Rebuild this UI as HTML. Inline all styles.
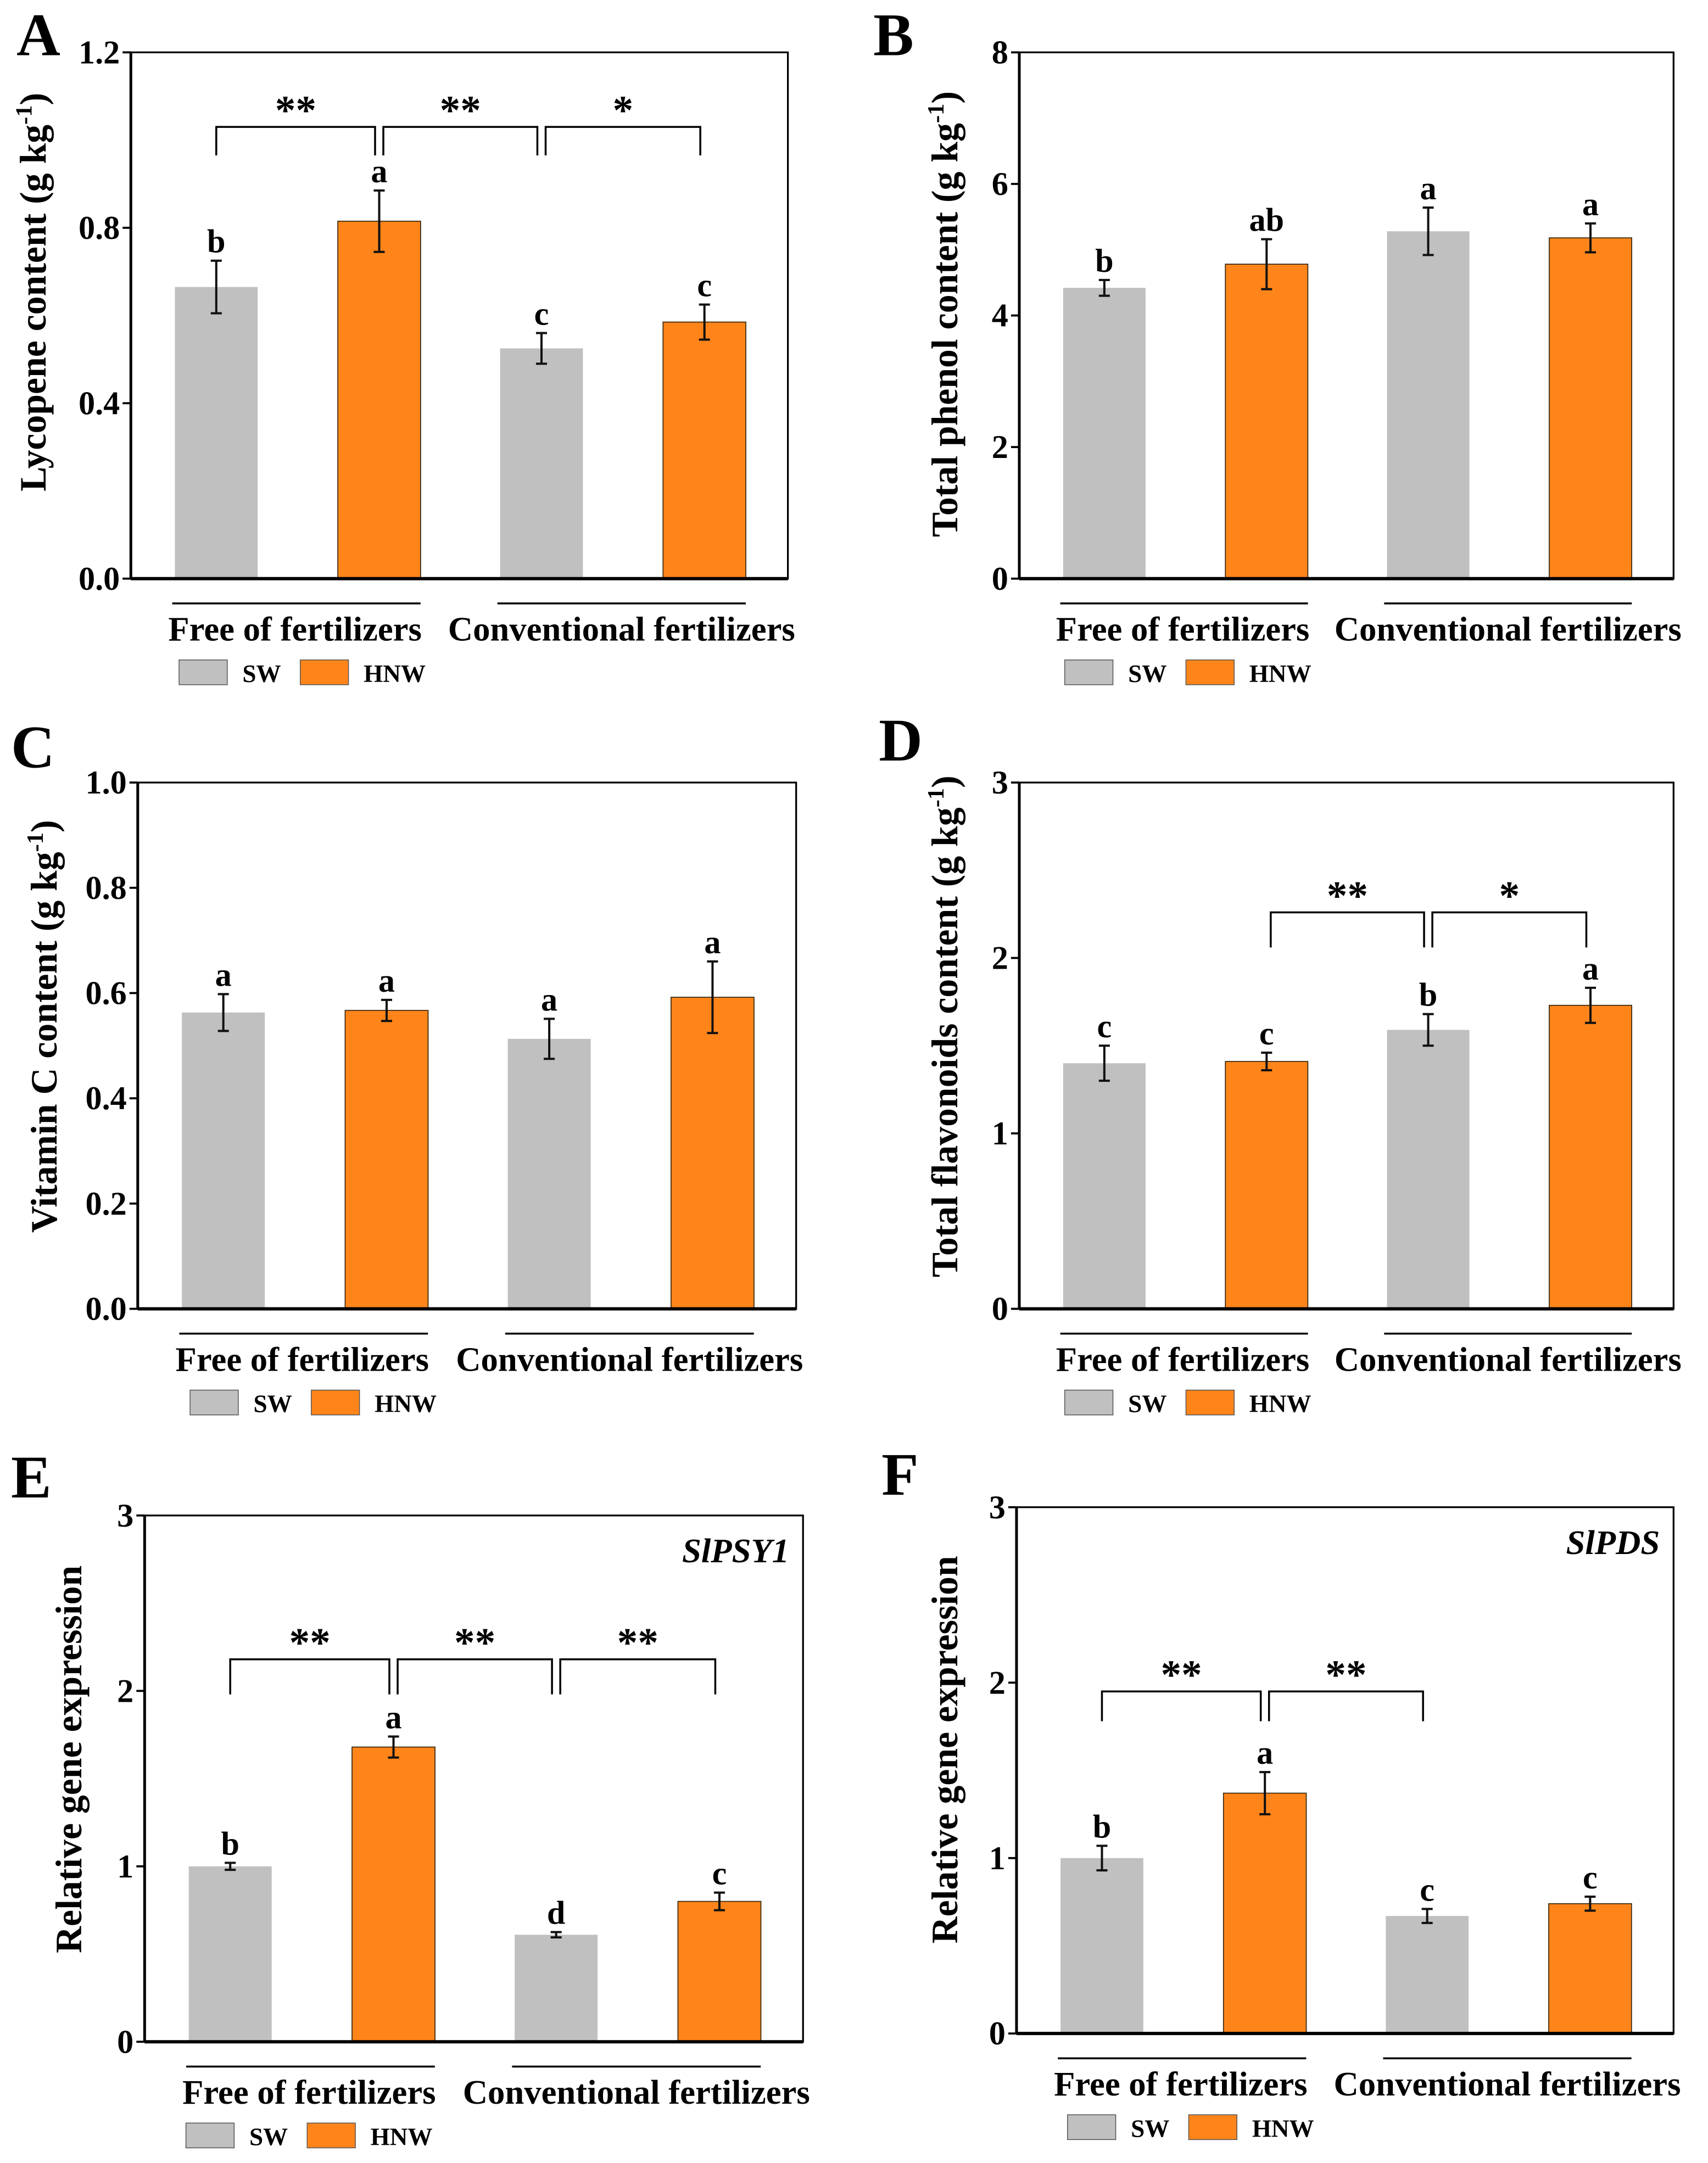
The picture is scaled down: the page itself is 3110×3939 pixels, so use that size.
<!DOCTYPE html>
<html><head><meta charset="utf-8"><style>
html,body{margin:0;padding:0;background:#fff;}
svg{display:block;}
svg text{font-family:"Liberation Serif","Times New Roman",serif;font-weight:bold;}
</style></head><body>
<svg id="fig" width="3110" height="3939" viewBox="0 0 1240 1570" preserveAspectRatio="none" xmlns="http://www.w3.org/2000/svg" font-family="Liberation Serif, serif" font-weight="bold"></svg>
<script>
// Panel data
const groups = ["Free of fertilizers", "Conventional fertilizers"];
const series = ["SW", "HNW"];
const valuesA = [0.665, 0.815, 0.525, 0.585];
const errorsA = [0.06, 0.07, 0.035, 0.04];
const lettersA = ["b", "a", "c", "c"];
const ticksA = ["0.0", "0.4", "0.8", "1.2"];
const valuesB = [4.42, 4.78, 5.28, 5.18];
const errorsB = [0.12, 0.38, 0.36, 0.22];
const lettersB = ["b", "ab", "a", "a"];
const ticksB = ["0", "2", "4", "6", "8"];
const valuesC = [0.563, 0.567, 0.513, 0.592];
const errorsC = [0.035, 0.02, 0.038, 0.068];
const lettersC = ["a", "a", "a", "a"];
const ticksC = ["0.0", "0.2", "0.4", "0.6", "0.8", "1.0"];
const valuesD = [1.40, 1.41, 1.59, 1.73];
const errorsD = [0.10, 0.05, 0.09, 0.10];
const lettersD = ["c", "c", "b", "a"];
const ticksD = ["0", "1", "2", "3"];
const valuesE = [1.0, 1.68, 0.61, 0.80];
const errorsE = [0.02, 0.06, 0.015, 0.05];
const lettersE = ["b", "a", "d", "c"];
const ticksE = ["0", "1", "2", "3"];
const valuesF = [1.0, 1.37, 0.67, 0.74];
const errorsF = [0.07, 0.12, 0.04, 0.04];
const lettersF = ["b", "a", "c", "c"];
const ticksF = ["0", "1", "2", "3"];
// brackets: [fromBar, toBar, stars]
const bracketsA = [[0, 1, "**"], [1, 2, "**"], [2, 3, "*"]];
const bracketsD = [[1, 2, "**"], [2, 3, "*"]];
const bracketsE = [[0, 1, "**"], [1, 2, "**"], [2, 3, "**"]];
const bracketsF = [[0, 1, "**"], [1, 2, "**"]];

const NS = "http://www.w3.org/2000/svg";
const svg = document.getElementById("fig");
function mk(tag, attrs, parent, text) {
  const e = document.createElementNS(NS, tag);
  for (const k in attrs) e.setAttribute(k, attrs[k]);
  if (text !== undefined) e.textContent = text;
  (parent || svg).appendChild(e);
  return e;
}
const GRAY = "#c0c0c0", ORANGE = "#ff851b";

function panel(p) {
  const g = mk("g", {});
  
  
  const {x0, x1, y0, y1, max} = p;
  const ys = v => y1 - (v / max) * (y1 - y0);
  const centers = [x0 + (x1 - x0) * 0.13, x0 + (x1 - x0) * 0.378, x0 + (x1 - x0) * 0.625, x0 + (x1 - x0) * 0.873];
  const bw = (x1 - x0) * 0.126;
  const pl = mk("text", {x: p.lx, y: p.ly, "font-size": 44}, g, p.id);
  
  
  p.values.forEach((v, i) => {
    const c = centers[i];
    const r = mk("rect", {x: c - bw / 2, y: ys(v), width: bw, height: y1 - ys(v), fill: i % 2 ? ORANGE : GRAY, stroke: i % 2 ? "#3a2a10" : "none", "stroke-width": 0.7}, g);
    
    
    const e = p.errors[i];
    const eb = mk("path", {d: `M${c},${ys(v + e)}V${ys(v - e)}M${c - 4},${ys(v + e)}H${c + 4}M${c - 4},${ys(v - e)}H${c + 4}`, stroke: "#111", "stroke-width": 1.6, fill: "none"}, g);
    
    
    const lt = mk("text", {x: c, y: ys(v + e) - 6, "text-anchor": "middle", "font-size": 24}, g, p.letters[i]);
    
    
  });
  const fr = mk("rect", {x: x0, y: y0, width: x1 - x0, height: y1 - y0, fill: "none", stroke: "#000", "stroke-width": 1.3}, g);
  
  
  mk("line", {x1: x0, x2: x1, y1: y1, y2: y1, stroke: "#000", "stroke-width": 2.4}, g);
  mk("line", {x1: x0, x2: x0, y1: y0, y2: y1, stroke: "#000", "stroke-width": 2}, g);
  p.ticks.forEach(t => {
    const y = ys(parseFloat(t));
    mk("line", {x1: x0 - 6, x2: x0, y1: y, y2: y, stroke: "#000", "stroke-width": 1.5}, g);
    const tl = mk("text", {x: x0 - 8, y: y + 8, "text-anchor": "end", "font-size": 24}, g, t);
    
    
  });
  const tt = mk("text", {transform: `translate(${p.tx},${p.ty}) rotate(-90)`, "text-anchor": "middle", "font-size": 27}, g);
  
  
  if (p.unit) {
    mk("tspan", {}, tt, p.title + " (g kg");
    mk("tspan", {dy: -10, "font-size": 17}, tt, "-1");
    mk("tspan", {dy: 10}, tt, ")");
  } else tt.textContent = p.title;
  if (p.gene) {
    const gl = mk("text", {x: x1 - 10, y: y0 + 34, "text-anchor": "end", "font-size": 25, "font-style": "italic"}, g, p.gene);
    
    
  }
  (p.brackets || []).forEach(b => {
    const xa = centers[b[0]] + (b[0] > 0 ? 3 : 0), xb = centers[b[1]] - 3;
    const yt = ys(p.bTop), yl = ys(p.bLeg);
    const br = mk("path", {d: `M${xa},${yl}V${yt}H${xb}V${yl}`, stroke: "#000", "stroke-width": 1.4, fill: "none"}, g);
    
    
    const st = mk("text", {x: (xa + xb) / 2, y: yt - 2, "text-anchor": "middle", "font-size": 30}, g, b[2]);
    
    
  });
  const gy = y1 + 18;
  [[centers[0] - 32, centers[1] + 30], [centers[2] - 32, centers[3] + 30]].forEach((r, i) => {
    mk("line", {x1: r[0], x2: r[1], y1: gy, y2: gy, stroke: "#000", "stroke-width": 1.4}, g);
    const gl = mk("text", {x: (r[0] + r[1]) / 2 + (i ? 0 : -1), y: gy + 27, "text-anchor": "middle", "font-size": 25, textLength: i ? 252 : 184, lengthAdjust: "spacingAndGlyphs"}, g, groups[i]);
    
    
  });
  const ly = gy + 50, lx = x0 + p.legOff;
  series.forEach((s, i) => {
    const bx = lx + i * 88;
    const lr = mk("rect", {x: bx, y: ly - 9, width: 35, height: 18, fill: i ? ORANGE : GRAY, stroke: "#555", "stroke-width": 0.6}, g);
    
    
    const lt = mk("text", {x: bx + 46, y: ly + 7, "font-size": 18}, g, s);
    
    
  });
}

panel({id: "A", x0: 95, x1: 572, y0: 38, y1: 420, max: 1.2, values: valuesA, errors: errorsA, letters: lettersA, ticks: ticksA, title: "Lycopene content", unit: true, tx: 33, ty: 212, lx: 12, ly: 40, brackets: bracketsA, bTop: 1.03, bLeg: 0.965, legOff: 35});
panel({id: "B", x0: 740, x1: 1215, y0: 38, y1: 420, max: 8, values: valuesB, errors: errorsB, letters: lettersB, ticks: ticksB, title: "Total phenol content", unit: true, tx: 695, ty: 228, lx: 634, ly: 40, legOff: 33});
panel({id: "C", x0: 100, x1: 578, y0: 568, y1: 950, max: 1.0, values: valuesC, errors: errorsC, letters: lettersC, ticks: ticksC, title: "Vitamin C content", unit: true, tx: 41, ty: 745, lx: 8, ly: 557, legOff: 38});
panel({id: "D", x0: 740, x1: 1215, y0: 568, y1: 950, max: 3, values: valuesD, errors: errorsD, letters: lettersD, ticks: ticksD, title: "Total flavonoids content", unit: true, tx: 695, ty: 745, lx: 638, ly: 552, brackets: bracketsD, bTop: 2.26, bLeg: 2.06, legOff: 33});
panel({id: "E", x0: 105, x1: 583, y0: 1100, y1: 1482, max: 3, values: valuesE, errors: errorsE, letters: lettersE, ticks: ticksE, title: "Relative gene expression", tx: 59, ty: 1277, lx: 8, ly: 1087, gene: "SlPSY1", brackets: bracketsE, bTop: 2.18, bLeg: 1.98, legOff: 30});
panel({id: "F", x0: 738, x1: 1215, y0: 1094, y1: 1476, max: 3, values: valuesF, errors: errorsF, letters: lettersF, ticks: ticksF, title: "Relative gene expression", tx: 695, ty: 1270, lx: 640, ly: 1085, gene: "SlPDS", brackets: bracketsF, bTop: 1.95, bLeg: 1.78, legOff: 37});
</script>
</body></html>
